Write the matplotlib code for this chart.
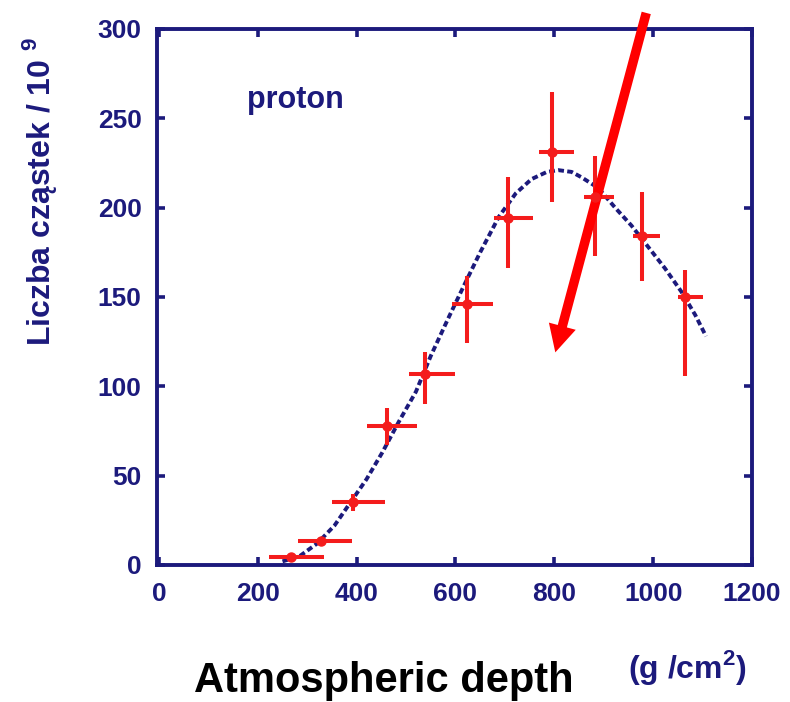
import matplotlib
matplotlib.use("Agg")
import matplotlib.pyplot as plt
import numpy as np

plt.rcParams['font.family'] = ['Liberation Sans', 'DejaVu Sans']
plt.rcParams['font.weight'] = 'bold'
plt.rcParams['mathtext.fontset'] = 'custom'
plt.rcParams['mathtext.rm'] = 'Liberation Sans:bold'
plt.rcParams['mathtext.bf'] = 'Liberation Sans:bold'

NAVY = '#1c1a7c'
RED = '#f41c1c'

# measured showers: bin centre, bin edges, count and its error band
depth = [268, 327, 393, 462, 538, 623, 706, 796, 883, 978, 1064]
depth_lo = [222, 282, 351, 421, 506, 593, 677, 770, 861, 960, 1050]
depth_hi = [333, 391, 458, 522, 599, 675, 756, 839, 921, 1014, 1101]
count = [4.5, 13.4, 35, 78, 107, 146, 194, 231, 206, 184, 150]
count_lo = [3, 12, 30, 67, 90, 124, 166, 203, 173, 159, 106]
count_hi = [6, 15, 40, 88, 119, 162, 217, 265, 229, 209, 165]

# fitted longitudinal profile
fit_depth = [250, 285, 320, 355, 385, 420, 452, 485, 520, 550, 587, 620, 650,
             688, 722, 754, 785, 808, 835, 855, 889, 923, 956, 990, 1024,
             1057, 1085, 1107]
fit_count = [2, 5, 12, 22, 34, 48, 63, 80, 97, 117, 139, 158, 175,
             195, 208, 216, 220, 221, 220, 217, 211, 200, 190, 178, 166,
             153, 140, 128]

x_ticks = [0, 200, 400, 600, 800, 1000, 1200]
y_ticks = [0, 50, 100, 150, 200, 250, 300]

fig = plt.figure(figsize=(7.9, 7.02), dpi=100)
ax = fig.add_axes([0.1987, 0.1952, 0.7532, 0.7635])

d = np.array(depth)
c = np.array(count)
xerr = [d - np.array(depth_lo), np.array(depth_hi) - d]
yerr = [c - np.array(count_lo), np.array(count_hi) - c]

ax.plot(fit_depth, fit_count, color=NAVY, lw=2.8, dashes=(1.5, 0.85), zorder=2)
ax.errorbar(d, c, xerr=xerr, yerr=yerr, fmt='o', color=RED, ms=6.5,
            elinewidth=2.9, capsize=0, zorder=3)

ax.text(179, 256, 'proton', color=NAVY, fontsize=22, fontweight='bold',
        ha='left', va='baseline')

# big red arrow pointing at the shower maximum region
ax.annotate('', xy=(802, 119), xytext=(986, 309), xycoords='data',
            annotation_clip=False,
            arrowprops=dict(arrowstyle='simple,head_length=1.95,head_width=2.0,tail_width=0.68',
                            mutation_scale=10, lw=0, color='#ff0000',
                            shrinkA=0, shrinkB=0))

ax.set_xlim(-4, 1196)
ax.set_ylim(0, 300)
ax.set_xticks(x_ticks)
ax.set_yticks(y_ticks)
ax.tick_params(direction='in', length=6, width=2.6, color=NAVY,
               top=True, right=True, labelsize=19, labelcolor=NAVY)
ax.tick_params(axis='x', pad=12)
ax.tick_params(axis='y', pad=11)
for lab in ax.get_xticklabels() + ax.get_yticklabels():
    lab.set_fontweight('bold')
for sp in ax.spines.values():
    sp.set_color(NAVY)
    sp.set_linewidth(2.8)

fig.text(40 / 790, 1 - 191 / 702, 'Liczba cząstek / 10 $^{9}$', rotation=90,
         color=NAVY, fontsize=23, fontweight='bold', ha='center', va='center')
fig.text(384 / 790, 1 - 692 / 702, 'Atmospheric depth', color='black',
         fontsize=30, fontweight='bold', ha='center', va='baseline')
fig.text(688 / 790, 1 - 678 / 702, '(g /cm$^{2}$)', color=NAVY,
         fontsize=23, fontweight='bold', ha='center', va='baseline')

fig.savefig('out.png', dpi=100)
